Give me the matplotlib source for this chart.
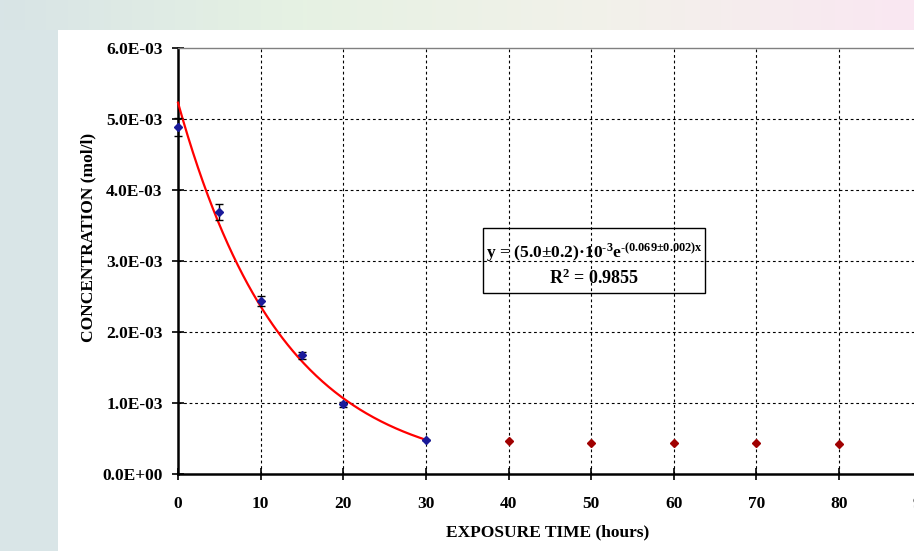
import numpy as np
import matplotlib
matplotlib.use("Agg")
import matplotlib.pyplot as plt
from matplotlib.colors import LinearSegmentedColormap
from matplotlib.patches import Rectangle

# ---- data ----
time_blue = [0, 5, 10, 15, 20, 30]
conc_blue = [4.89e-3, 3.69e-3, 2.44e-3, 1.67e-3, 0.98e-3, 0.48e-3]
err_blue = [0.13e-3, 0.11e-3, 0.07e-3, 0.05e-3, 0.03e-3, 0.0]
time_red = [40, 50, 60, 70, 80]
conc_red = [0.46e-3, 0.44e-3, 0.44e-3, 0.44e-3, 0.42e-3]
fit_A = 5.23e-3
fit_k = 0.0795
fit_start, fit_end = 0, 30
x_ticks = [0, 10, 20, 30, 40, 50, 60, 70, 80, 90]
y_ticks = [0, 1e-3, 2e-3, 3e-3, 4e-3, 5e-3, 6e-3]
y_ticklabels = ['0.0E+00', '1.0E-03', '2.0E-03', '3.0E-03', '4.0E-03', '5.0E-03', '6.0E-03']
eq_line1 = 'y = (5.0±0.2)·10$^{\u20103}$e$^{\u2010(0.069±0.002)x}$'
eq_line2 = r'R$^{2}$ = 0.9855'
x_label = 'EXPOSURE TIME (hours)'
y_label = 'CONCENTRATION (mol/l)'

plt.rcParams['font.family'] = ['Liberation Serif', 'DejaVu Serif']
plt.rcParams['font.weight'] = 'bold'
plt.rcParams['mathtext.fontset'] = 'custom'
plt.rcParams['mathtext.rm'] = 'Liberation Serif:bold'
plt.rcParams['mathtext.it'] = 'Liberation Serif:bold'
plt.rcParams['mathtext.bf'] = 'Liberation Serif:bold'
plt.rcParams['mathtext.default'] = 'rm'

W, H = 914, 551
fig = plt.figure(figsize=(W / 100, H / 100), dpi=100)
fig.patch.set_facecolor('white')

# background: top gradient band and left strip
bg = fig.add_axes([0, 0, 1, 1], zorder=-10)
bg.axis('off')
cmap = LinearSegmentedColormap.from_list('bg', ['#D8E4E6', '#E6F2E3', '#F2F1EA', '#FAE7F2'])
grad = np.linspace(0, 1, 256).reshape(1, -1)
bg.imshow(grad, cmap=cmap, extent=[0, W, 30, 0], aspect='auto')
bg.add_patch(Rectangle((0, 30), 58, H - 30, color='#D9E5E7', lw=0))
bg.set_xlim(0, W)
bg.set_ylim(H, 0)

# main axes
px_per_unit = (839 - 178) / 80.0
ax_left = 178 / W
ax_bottom = (H - 474) / H
ax_width = 90 * px_per_unit / W
ax_height = (474 - 48) / H
ax = fig.add_axes([ax_left, ax_bottom, ax_width, ax_height])
ax.set_facecolor('none')
ax.set_xlim(0, 90)
ax.set_ylim(0, 6e-3)

ax.set_xticks(x_ticks)
ax.set_xticklabels([str(v) for v in x_ticks])
ax.set_yticks(y_ticks)
ax.set_yticklabels(y_ticklabels)
ax.tick_params(axis='both', direction='inout', length=8, width=1.2, colors='black',
               labelsize=12.5)
ax.tick_params(axis='y', pad=7)
ax.tick_params(axis='x', pad=12)
for lab in ax.get_xticklabels() + ax.get_yticklabels():
    lab.set_fontweight('bold')

ax.grid(True, which='major', color='black', linestyle=(0, (2.5, 2.5)), linewidth=0.8)
ax.get_ygridlines()[-1].set_visible(False)
ax.get_ygridlines()[0].set_visible(False)
ax.get_xgridlines()[0].set_visible(False)

ax.spines['left'].set_linewidth(1.8)
ax.spines['bottom'].set_linewidth(1.8)
ax.spines['top'].set_color('#808080')
ax.spines['top'].set_linewidth(1.0)
ax.spines['right'].set_color('#808080')

# fitted curve
t_fit = np.linspace(fit_start, fit_end, 200)
ax.plot(t_fit, fit_A * np.exp(-fit_k * t_fit), color='#FF0000', lw=1.6, zorder=3,
        clip_on=False)

# data
ax.errorbar(time_blue, conc_blue, yerr=err_blue, fmt='D', color='#1A1A9A', ms=4.5,
            ecolor='black', elinewidth=1.0, capsize=3, capthick=1.0, zorder=4,
            clip_on=False)
ax.plot(time_red, conc_red, 'D', color='#A00000', ms=4.5, zorder=4)

ax.set_xlabel(x_label, fontsize=12.5, fontweight='bold')
ax.set_ylabel(y_label, fontsize=12.5, fontweight='bold')
ax.xaxis.set_label_coords((548 - 178) / (ax_width * W), -(532 - 474) / (ax_height * H))
ax.xaxis.label.set_va('center')
ax.yaxis.set_label_coords(-(178 - 88) / (ax_width * W), (474 - 237) / (ax_height * H))
ax.yaxis.label.set_va('center')

# equation box
box = Rectangle((483, 228), 222, 65, transform=bg.transData, facecolor='white',
                edgecolor='black', lw=1.0, zorder=5)
bg.add_patch(box)
fig.text(594 / W, 1 - 253 / H, eq_line1, ha='center', va='center', fontsize=12.6,
         fontweight='bold', zorder=6)
fig.text(594 / W, 1 - 278 / H, eq_line2, ha='center', va='center', fontsize=13,
         fontweight='bold', zorder=6)

fig.savefig('out.png', dpi=100)
